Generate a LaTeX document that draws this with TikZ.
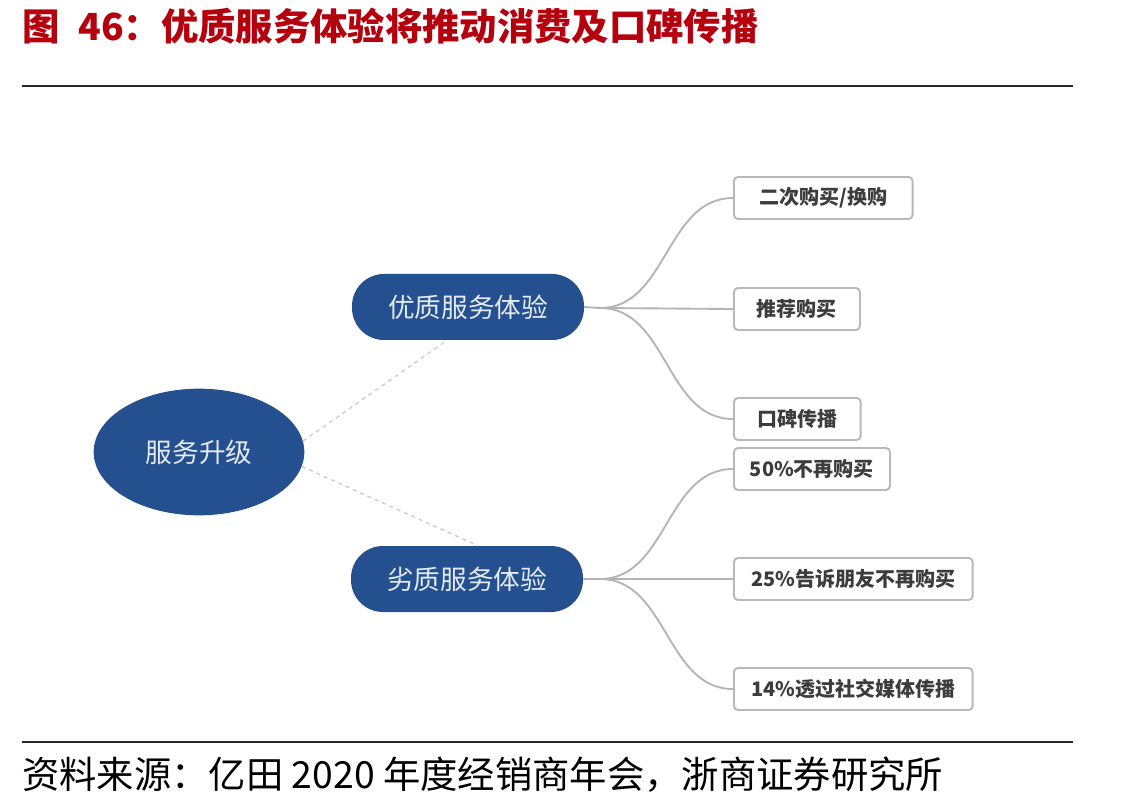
\documentclass[tikz,border=0pt]{standalone}
\usepackage{fontspec}
\setmainfont{Noto Sans CJK SC}
\usetikzlibrary{shapes.geometric,calc}
\definecolor{navy}{HTML}{24508F}
\definecolor{titlered}{HTML}{B5000E}
\definecolor{boxgray}{HTML}{B8B8B8}
\definecolor{linegray}{HTML}{B4B4B4}
\definecolor{dashgray}{HTML}{C8C8C8}
\definecolor{txtgray}{HTML}{3C3C3C}
\definecolor{pilltxt}{HTML}{E4EAF2}
\begin{document}
\begin{tikzpicture}[x=0.75pt,y=-0.75pt,
  pill/.style={rectangle, rounded corners=24pt, fill=navy, minimum width=174pt, minimum height=49.5pt, inner sep=0pt,
    text=pilltxt, font=\fontsize{20}{24}\selectfont},
  rootnode/.style={ellipse, fill=navy, minimum width=158pt, minimum height=95pt, inner sep=0pt,
    text=pilltxt, font=\fontsize{20}{24}\selectfont},
  leaf/.style={rectangle, rounded corners=3pt, draw=boxgray, line width=1.4pt, fill=white, minimum height=31.5pt,
    inner sep=0pt, anchor=west, text=txtgray, font=\fontsize{15}{18}\selectfont\bfseries},
  branch/.style={draw=linegray, line width=1.4pt},
  link/.style={draw=dashgray, line width=0.9pt, dashed}
]
\useasboundingbox (0,0) rectangle (1133,809);
\fill[white] (0,0) rectangle (1133,809);
% title
\node[anchor=west, inner sep=0pt, text=titlered, font=\fontsize{28}{32}\selectfont\bfseries] (title) at (22,26) {图\hspace{0.5em}46：优质服务体验将推动消费及口碑传播};
\draw[line width=1.6pt, black!85] (22,86) -- (1073,86);
\draw[line width=1.6pt, black!85] (22,742) -- (1073,742);
\node[anchor=west, inner sep=0pt, text=black, font=\fontsize{28}{31}\selectfont] (foot) at (22,775) {资料来源：亿田 2020 年度经销商年会，浙商证券研究所};
% main nodes
\node[rootnode] (root) at (199,452) {服务升级};
\node[pill] (up) at (468,307) {优质服务体验};
\node[pill] (dn) at (467,579) {劣质服务体验};
% dashed links
\draw[link] (root.6) -- ($(up.south)+(-21,0)$);
\draw[link] (root.-8) -- ($(dn.north)+(11,0)$);
% leaves
\node[leaf, minimum width=134pt] (b1) at (733,198) {二次购买/换购};
\node[leaf, minimum width=94.5pt] (b2) at (733,309) {推荐购买};
\node[leaf, minimum width=95pt] (b3) at (733,419) {口碑传播};
\node[leaf, minimum width=117pt] (b4) at (733,469) {50\%不再购买};
\node[leaf, minimum width=179pt] (b5) at (733,579) {25\%告诉朋友不再购买};
\node[leaf, minimum width=179pt] (b6) at (733,689) {14\%透过社交媒体传播};
% branches
\coordinate (uj) at (600,308);
\coordinate (dj) at (600,579);
\draw[branch] (up.east) -- (uj);
\draw[branch] (dn.east) -- (dj);
\draw[branch] (uj) to[out=0,in=180,looseness=1] (b1.west);
\draw[branch] (uj) -- (b2.west);
\draw[branch] (uj) to[out=0,in=180,looseness=1] (b3.west);
\draw[branch] (dj) to[out=0,in=180,looseness=1] (b4.west);
\draw[branch] (dj) -- (b5.west);
\draw[branch] (dj) to[out=0,in=180,looseness=1] (b6.west);
\end{tikzpicture}
\end{document}
